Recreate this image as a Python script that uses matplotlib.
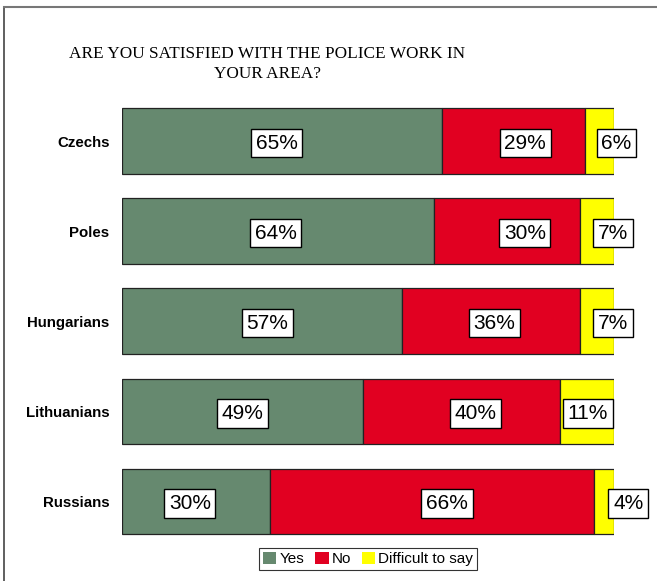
import numpy as np
import matplotlib.pyplot as plt
from matplotlib.lines import Line2D

groups = ['Czechs', 'Poles', 'Hungarians', 'Lithuanians', 'Russians']
yes = [65, 64, 57, 49, 30]
no = [29, 30, 36, 40, 66]
hard = [6, 7, 7, 11, 4]
series_names = ['Yes', 'No', 'Difficult to say']

colors = ['#66896F', '#E10021', '#FFFF00']

# label nudges (pixels) to mimic the manually placed labels in the original
nudge = [[-5, 12, 17],
         [-2, 18, 16],
         [5, 3, 16],
         [0, 14, 1],
         [-6, 15, 24]]

fig = plt.figure(figsize=(6.57, 5.81), dpi=100)
ax = fig.add_axes([0.1857, 0.0592, 0.7489, 0.7756])

data = np.array([yes, no, hard], dtype=float)
shares = data / data.sum(axis=0) * 100  # rows are stretched to 100%

y = np.arange(len(groups))
left = np.zeros(len(groups))
for k, (name, col) in enumerate(zip(series_names, colors)):
    w = shares[k]
    ax.barh(y, w, left=left, height=0.73, color=col, edgecolor='#222222',
            linewidth=0.9, label=name)
    for i in range(len(groups)):
        ax.annotate(f'{int(data[k, i])}%', xy=(left[i] + w[i] / 2, y[i]),
                    xytext=(nudge[i][k], -2), textcoords='offset pixels',
                    ha='center', va='center', fontsize=15, family='Liberation Sans',
                    bbox=dict(boxstyle='square,pad=0.22', facecolor='white',
                              edgecolor='black', linewidth=1))
    left += w

ax.set_xlim(0, 100)
ax.set_ylim(len(groups) - 0.5, -0.5)
ax.set_yticks(y)
ax.set_yticklabels(groups, fontsize=10.8, fontweight='bold', family='Liberation Sans')
ax.tick_params(axis='y', length=0, pad=9)
ax.set_xticks([])
for s in ax.spines.values():
    s.set_visible(False)

fig.text(0.407, 0.890, 'ARE YOU SATISFIED WITH THE POLICE WORK IN\nYOUR AREA?',
         ha='center', va='center', fontsize=12.4, family='Liberation Serif',
         linespacing=1.35)

leg = fig.legend(loc='center', bbox_to_anchor=(0.560, 0.038), ncol=3,
                 prop={'family': 'Liberation Sans', 'size': 11},
                 frameon=True, fancybox=False, handlelength=0.9, handleheight=0.9,
                 handletextpad=0.2, columnspacing=0.7, borderpad=0.25)
leg.get_frame().set_edgecolor('black')
leg.get_frame().set_linewidth(0.8)
for h in leg.legend_handles:
    h.set_edgecolor('none')

# outer border (top and left visible)
fig.add_artist(Line2D([4 / 657, 4 / 657], [0, 1 - 7 / 581], transform=fig.transFigure,
                      color='#444444', linewidth=1.2))
fig.add_artist(Line2D([4 / 657, 1], [1 - 7 / 581, 1 - 7 / 581], transform=fig.transFigure,
                      color='#777777', linewidth=1.5))

fig.savefig('out.png', dpi=100)
